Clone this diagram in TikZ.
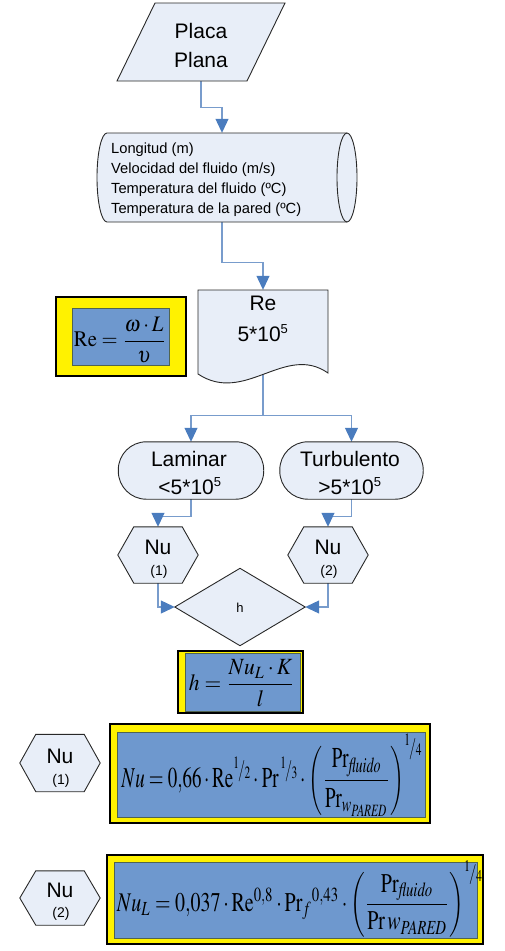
\documentclass[tikz,border=0pt]{standalone}
\usepackage{mathptmx}
\usepackage[no-math]{fontspec}
\setmainfont{Liberation Sans}
\usetikzlibrary{arrows.meta,calc}
\pgfdeclarelayer{lines}
\pgfdeclarelayer{shapes}
\pgfsetlayers{lines,shapes,main}
\definecolor{shapefill}{RGB}{232,238,248}
\definecolor{shapeline}{RGB}{40,40,40}
\definecolor{connline}{RGB}{120,156,204}
\definecolor{arrowblue}{RGB}{74,124,190}
\definecolor{formblue}{RGB}{110,152,206}
\definecolor{formedge}{RGB}{80,100,80}
\newcommand{\slfr}[2]{\raisebox{0.3em}{$\scriptscriptstyle #1$}\kern-0.05em/\kern-0.02em\raisebox{-0.05em}{$\scriptscriptstyle #2$}}
\newcommand{\dfr}[2]{{\displaystyle\frac{#1}{#2}}}
\tikzset{
  anchorbox/.style={inner sep=0pt, draw=none},
  shapebox/.style={fill=shapefill, draw=shapeline, line width=0.9pt},
  conn/.style={draw=connline, line width=1.1pt, -{Triangle[length=14pt,width=13pt,color=arrowblue]}},
  bigtxt/.style={font=\fontsize{21}{21}\selectfont, inner sep=0pt},
  smalltxt/.style={font=\fontsize{14}{14}\selectfont, inner sep=0pt},
  outerbox/.style={fill=yellow, draw=black, line width=1.2pt},
  innerbox/.style={fill=formblue, draw=formedge, line width=1pt},
}
\begin{document}
\begin{tikzpicture}[x=1pt,y=-1pt]
\useasboundingbox (0,0) rectangle (505,951);

% ---------- anchor nodes ----------
\node[anchorbox, minimum width=130pt, minimum height=78pt] (plac) at (201,42) {};
\node[anchorbox, minimum width=250pt, minimum height=89pt] (cyl) at (222,177.5) {};
\node[anchorbox, minimum width=130pt, minimum height=84pt] (doc) at (263,332) {};
\node[anchorbox, minimum width=145pt, minimum height=57pt] (lam) at (191,470.5) {};
\node[anchorbox, minimum width=143pt, minimum height=57pt] (turb) at (351.5,470.5) {};
\node[anchorbox, minimum width=80pt, minimum height=56pt] (nu1) at (158,555) {};
\node[anchorbox, minimum width=80pt, minimum height=56pt] (nu2) at (328,555) {};
\node[anchorbox, minimum width=130pt, minimum height=77pt] (dia) at (240,607) {};
\node[anchorbox, minimum width=80pt, minimum height=57pt] (nua) at (60,763) {};
\node[anchorbox, minimum width=80pt, minimum height=54pt] (nub) at (60,898) {};

% ---------- shapes ----------
\begin{pgfonlayer}{shapes}
\path[shapebox] (155,3) -- (285,3) -- (247,81) -- (117,81) -- cycle;
\path[shapebox] (107,133) -- (347,133) arc (-90:90:10 and 44.5) -- (107,222) arc (90:270:10 and 44.5) -- cycle;
\draw[shapeline, line width=0.9pt] (347,133) arc (270:90:10 and 44.5);
\path[shapebox] (198,290) -- (328,290) -- (328,373) .. controls (285,343) and (245,405) .. (198,374) -- cycle;
\path[shapebox, rounded corners=28pt] (lam.south west) rectangle (lam.north east);
\path[shapebox, rounded corners=28pt] (turb.south west) rectangle (turb.north east);
\foreach \n in {nu1,nu2,nua,nub}{
  \path[shapebox] (\n.west) -- ($(\n.north west)+(16,0)$) -- ($(\n.north east)+(-16,0)$) -- (\n.east) -- ($(\n.south east)+(-16,0)$) -- ($(\n.south west)+(16,0)$) -- cycle;
}
\path[shapebox] (dia.west) -- (dia.north) -- (dia.east) -- (dia.south) -- cycle;
\end{pgfonlayer}

% ---------- connectors ----------
\begin{pgfonlayer}{lines}
\draw[conn] (plac.south) -- ++(0,26) -| (cyl.north);
\draw[conn] (cyl.south) -- ++(0,40) -| (doc.north);
\draw[conn] (doc.south) -- ++(0,41) -| (lam.north);
\draw[conn] (doc.south) -- ++(0,41) -| (turb.north);
\draw[conn] (lam.south) -- ++(0,17) -| (nu1.north);
\draw[conn] (turb.south) -- ++(0,17) -| (nu2.north);
\draw[conn] (nu1.south) |- (dia.west);
\draw[conn] (nu2.south) |- (dia.east);
\end{pgfonlayer}

% ---------- texts ----------
\node[bigtxt] (placa) at (201,31) {Placa};
\node[bigtxt] (plana) at (201,60) {Plana};
\node[anchorbox, anchor=west, align=left, font=\fontsize{14.7}{20}\selectfont] (cyltxt) at (111,180) {Longitud (m)\\Velocidad del fluido (m/s)\\Temperatura del fluido (ºC)\\Temperatura de la pared (ºC)};
\node[bigtxt] (ret) at (263,303) {Re};
\node[bigtxt] (ren) at (263,333) {5*10\textsuperscript{\fontsize{13}{13}\selectfont 5}};
\node[bigtxt] (lamt) at (189,459) {Laminar};
\node[bigtxt] (lamn) at (190,486) {<5*10\textsuperscript{\fontsize{13}{13}\selectfont 5}};
\node[bigtxt] (turbt) at (350,459) {Turbulento};
\node[bigtxt] (turbn) at (350,486) {>5*10\textsuperscript{\fontsize{13}{13}\selectfont 5}};
\node[bigtxt] (nu1t) at (158,547) {Nu};
\node[smalltxt] (nu1n) at (159,572) {(1)};
\node[bigtxt] (nu2t) at (328,547) {Nu};
\node[smalltxt] (nu2n) at (329,572) {(2)};
\node[font=\fontsize{13}{13}\selectfont, inner sep=0pt] (ht) at (240,608) {h};
\node[bigtxt] (nuat) at (60,756) {Nu};
\node[smalltxt] (nuan) at (61,781) {(1)};
\node[bigtxt] (nubt) at (60,890) {Nu};
\node[smalltxt] (nubn) at (61,914) {(2)};

% ---------- formula boxes ----------
\path[outerbox] (56,297) rectangle (186,376);
\path[innerbox] (72,308) rectangle (169,365);
\node[inner sep=0pt] (fre) at (120,340) {\resizebox*{92pt}{45pt}{$\mathrm{Re}=\dfr{\omega\cdot L}{\upsilon}$}};

\path[outerbox] (178,651) rectangle (303,713);
\path[innerbox] (185,653) rectangle (300,711);
\node[inner sep=0pt] (fh) at (242,683) {\resizebox*{106pt}{47pt}{$h=\dfr{Nu_L\cdot K}{l}$}};

\path[outerbox] (110,724) rectangle (430,823);
\path[innerbox] (117,732) rectangle (425,817);
\node[inner sep=0pt] (fnu1) at (272,775) {\resizebox*{301pt}{82pt}{$Nu=0{,}66\cdot\mathrm{Re}^{\slfr{1}{2}}\cdot\mathrm{Pr}^{\,\slfr{1}{3}}\cdot\left(\dfr{\mathrm{Pr}_{\mathit{fluido}}}{\mathrm{Pr}_{w_{\mathit{PARED}}}}\right)^{\slfr{1}{4}}$}};

\path[outerbox] (107,855) rectangle (483,944);
\path[innerbox] (114,862) rectangle (477,938);
\node[inner sep=0pt] (fnu2) at (300,899) {\resizebox*{366pt}{76pt}{$Nu_L=0{,}037\cdot\mathrm{Re}^{0,8}\cdot\mathrm{Pr}_f{}^{0,43}\cdot\left(\dfr{\mathrm{Pr}_{\mathit{fluido}}}{\mathrm{Pr}\,w_{\mathit{PARED}}}\right)^{\slfr{1}{4}}$}};
\end{tikzpicture}
\end{document}
